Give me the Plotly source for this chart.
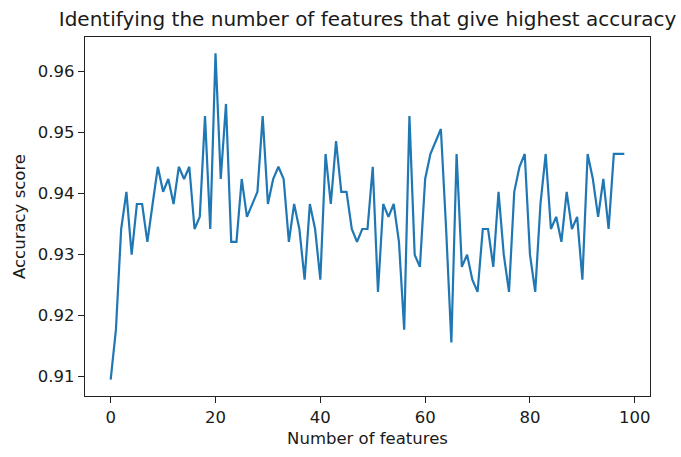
import plotly.graph_objects as go

# Accuracy score for each number of selected features (0..98)
n_features = list(range(99))
accuracy = [
    0.9095, 0.9177, 0.9342, 0.9403, 0.9300, 0.9383, 0.9383, 0.9321, 0.9383, 0.9444,
    0.9403, 0.9424, 0.9383, 0.9444, 0.9424, 0.9444, 0.9342, 0.9362, 0.9527, 0.9342,
    0.9630, 0.9424, 0.9547, 0.9321, 0.9321, 0.9424, 0.9362, 0.9383, 0.9403, 0.9527,
    0.9383, 0.9424, 0.9444, 0.9424, 0.9321, 0.9383, 0.9342, 0.9259, 0.9383, 0.9342,
    0.9259, 0.9465, 0.9383, 0.9486, 0.9403, 0.9403, 0.9342, 0.9321, 0.9342, 0.9342,
    0.9444, 0.9239, 0.9383, 0.9362, 0.9383, 0.9321, 0.9177, 0.9527, 0.9300, 0.9280,
    0.9424, 0.9465, 0.9486, 0.9506, 0.9342, 0.9156, 0.9465, 0.9280, 0.9300, 0.9259,
    0.9239, 0.9342, 0.9342, 0.9280, 0.9403, 0.9300, 0.9239, 0.9403, 0.9444, 0.9465,
    0.9300, 0.9239, 0.9383, 0.9465, 0.9342, 0.9362, 0.9321, 0.9403, 0.9342, 0.9362,
    0.9259, 0.9465, 0.9424, 0.9362, 0.9424, 0.9342, 0.9465, 0.9465, 0.9465,
]

x_ticks = [0, 20, 40, 60, 80, 100]
y_ticks = [0.91, 0.92, 0.93, 0.94, 0.95, 0.96]

title_text = "Identifying the number of features that give highest accuracy"
x_label = "Number of features"
y_label = "Accuracy score"

FONT = "DejaVu Sans"
TEXT = "#1a1a1a"

# matplotlib-style 5% autoscale margins
xpad = 0.05 * (n_features[-1] - n_features[0])
ypad = 0.05 * (max(accuracy) - min(accuracy))

fig = go.Figure(
    go.Scatter(
        x=n_features,
        y=accuracy,
        mode="lines",
        line=dict(color="#1f77b4", width=2.2),
        hoverinfo="skip",
    )
)

axis_common = dict(
    showgrid=False,
    zeroline=False,
    showline=True,
    mirror=True,
    linecolor="#222222",
    linewidth=1.3,
    ticks="outside",
    ticklen=6,
    tickwidth=1.3,
    tickcolor="#222222",
    tickfont=dict(family=FONT, size=16.5, color=TEXT),
)

fig.update_layout(
    width=681,
    height=457,
    margin=dict(l=85, r=31, t=37, b=52),
    paper_bgcolor="white",
    plot_bgcolor="white",
    showlegend=False,
    title=dict(
        text=title_text,
        font=dict(family=FONT, size=20, color=TEXT),
        x=0.5 * (85 + 650) / 681,
        xanchor="center",
        xref="container",
        y=1 - 19 / 457,
        yanchor="middle",
        yref="container",
    ),
    xaxis=dict(
        **axis_common,
        range=[n_features[0] - xpad, n_features[-1] + xpad],
        tickvals=x_ticks,
        ticktext=[str(v) for v in x_ticks],
        title=dict(text=x_label, font=dict(family=FONT, size=16.5, color=TEXT), standoff=6),
    ),
    yaxis=dict(
        **axis_common,
        range=[min(accuracy) - ypad, max(accuracy) + ypad],
        tickvals=y_ticks,
        ticktext=[f"{v:.2f}" for v in y_ticks],
        title=dict(text=y_label, font=dict(family=FONT, size=16.5, color=TEXT), standoff=8),
    ),
)

fig.write_html("out.html")
